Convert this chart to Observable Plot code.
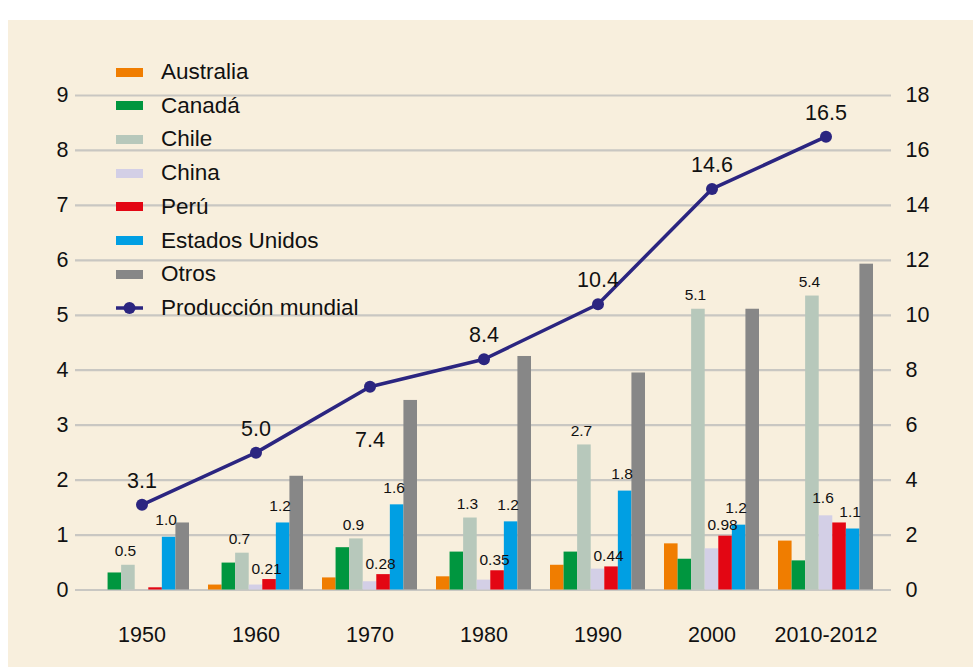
<!DOCTYPE html>
<html>
<head>
<meta charset="utf-8">
<script src="https://cdn.jsdelivr.net/npm/d3@7"></script>
<script src="https://cdn.jsdelivr.net/npm/@observablehq/plot@0.6"></script>
<style>
  html, body { margin: 0; padding: 0; background: #ffffff; }
  body { width: 973px; height: 667px; position: relative; overflow: hidden; font-family: "Liberation Sans", Arial, sans-serif; }
  #bg { position: absolute; left: 8px; top: 20px; width: 965px; height: 647px; background: #f8efdd; }
  #legend { position: absolute; left: 0; top: 0; }
  .item { position: absolute; height: 30px; display: flex; align-items: center; }
  .lbl { position: absolute; left: 45px; font-size: 22.5px; color: #111; white-space: nowrap; line-height: 30px; top: 0; }
  .sw { position: absolute; left: 0; width: 27px; height: 9px; top: 10.5px; }
</style>
</head>
<body>
<div id="bg"></div>
<script>
// ---------- data ----------
const groups = ["1950", "1960", "1970", "1980", "1990", "2000", "2010-2012"];
const seriesNames = ["Australia", "Canadá", "Chile", "China", "Perú", "Estados Unidos", "Otros"];
const seriesColors = ["#f07d00", "#00963f", "#b7c8bb", "#d3cfe6", "#e30613", "#009fe3", "#878787"];

const australia = [0.00, 0.09, 0.22, 0.24, 0.45, 0.84, 0.89];
const canada    = [0.31, 0.49, 0.77, 0.69, 0.69, 0.56, 0.53];
const chile     = [0.45, 0.67, 0.93, 1.31, 2.64, 5.11, 5.35];
const china     = [0.00, 0.09, 0.15, 0.18, 0.38, 0.75, 1.35];
const peru      = [0.04, 0.19, 0.28, 0.35, 0.42, 0.98, 1.22];
const eeuu      = [0.96, 1.22, 1.55, 1.24, 1.80, 1.18, 1.11];
const otros     = [1.22, 2.07, 3.45, 4.25, 3.95, 5.11, 5.93];

const lineName = "Producción mundial";
const lineColor = "#2b2580";
const mundial   = [3.1, 5.0, 7.4, 8.4, 10.4, 14.6, 16.5];

// bar value labels (group, series, text)
const labelGroups = ["1950","1950","1960","1960","1960","1970","1970","1970","1980","1980","1980","1990","1990","1990","2000","2000","2000","2010-2012","2010-2012","2010-2012"];
const labelSeries = ["Chile","Estados Unidos","Chile","Perú","Estados Unidos","Chile","Perú","Estados Unidos","Chile","Perú","Estados Unidos","Chile","Perú","Estados Unidos","Chile","Perú","Estados Unidos","Chile","China","Estados Unidos"];
const labelTexts  = ["0.5","1.0","0.7","0.21","1.2","0.9","0.28","1.6","1.3","0.35","1.2","2.7","0.44","1.8","5.1","0.98","1.2","5.4","1.6","1.1"];

const yTicks = [0, 1, 2, 3, 4, 5, 6, 7, 8, 9];

// ---------- build tables ----------
const seriesValues = [australia, canada, chile, china, peru, eeuu, otros];
const barData = seriesNames.map((s, i) => groups.map((g, j) => ({group: g, series: s, value: seriesValues[i][j]})));
const lineData = groups.map((g, j) => ({group: g, value: mundial[j]}));
const labelData = labelTexts.map((t, k) => {
  const si = seriesNames.indexOf(labelSeries[k]);
  const gj = groups.indexOf(labelGroups[k]);
  return {group: labelGroups[k], series: labelSeries[k], si, text: t, value: seriesValues[si][gj]};
});

// ---------- layout ----------
const W = 965, H = 647, mL = 67, mR = 82, mT = 75, mB = 77.5;
const pIn = 0.17, pOut = 0.15;
const step = (W - mL - mR) / (groups.length - pIn + 2 * pOut);
const band = step * (1 - pIn);
const n = seriesNames.length;
const bw = band / n;
const labelLift = {"Chile": -9, "China": -13, "Perú": -6, "Estados Unidos": -12};

const font = "'Liberation Sans', Arial, sans-serif";

const marks = [
  Plot.ruleY(yTicks, {stroke: "#c9c7c2", strokeWidth: 2.2}),
  ...seriesNames.map((s, i) => Plot.barY(barData[i], {
    x: "group", y: "value", fill: seriesColors[i],
    insetLeft: i * bw, insetRight: (n - 1 - i) * bw
  })),
  ...seriesNames.map((s, i) => Plot.text(labelData.filter(d => d.si === i), {
    x: "group", y: "value", text: "text",
    dx: (i - (n - 1) / 2) * bw - 3, dy: labelLift[s] ?? -8, lineAnchor: "bottom",
    fontSize: 15.5, fill: "#111"
  })),
  Plot.axisY({anchor: "left", ticks: yTicks, tickSize: 0, tickPadding: 7, fontSize: 21.5, label: null, fill: "#111"}),
  Plot.axisY({anchor: "right", ticks: yTicks, tickSize: 0, tickPadding: 14, fontSize: 21.5, label: null, fill: "#111", tickFormat: d => String(d * 2)}),
  Plot.axisX({tickSize: 0, tickPadding: 37, fontSize: 21.5, label: null, fill: "#111"}),
  Plot.line(lineData, {x: "group", y: d => d.value / 2, stroke: lineColor, strokeWidth: 3.5}),
  Plot.dot(lineData, {x: "group", y: d => d.value / 2, r: 6, fill: lineColor, stroke: null}),
  Plot.text(lineData.filter(d => d.group !== "1970"), {
    x: "group", y: d => d.value / 2, text: d => d3.format(".1f")(d.value),
    lineAnchor: "bottom", dy: -17, fontSize: 21.5, fill: "#111"
  }),
  Plot.text(lineData.filter(d => d.group === "1970"), {
    x: "group", y: d => d.value / 2, text: d => d3.format(".1f")(d.value),
    lineAnchor: "top", dy: 45, fontSize: 21.5, fill: "#111"
  })
];

const chart = Plot.plot({
  width: W, height: H,
  marginLeft: mL, marginRight: mR, marginTop: mT, marginBottom: mB,
  style: {background: "transparent", fontFamily: font, color: "#111"},
  x: {type: "band", domain: groups, paddingInner: pIn, paddingOuter: pOut},
  y: {domain: [0, 9]},
  marks
});
chart.style.position = "absolute";
chart.style.left = "0px";
chart.style.top = "0px";
document.getElementById("bg").appendChild(chart);

// ---------- legend ----------
const legend = document.createElement("div");
legend.id = "legend";
const legendX = 108, legendY0 = 37, legendStep = 33.7;
const items = seriesNames.map((s, i) => ({name: s, color: seriesColors[i], type: "bar"}))
  .concat([{name: lineName, color: lineColor, type: "line"}]);
items.forEach((it, i) => {
  const row = document.createElement("div");
  row.className = "item";
  row.style.left = legendX + "px";
  row.style.top = (legendY0 + i * legendStep) + "px";
  if (it.type === "bar") {
    const sw = document.createElement("div");
    sw.className = "sw";
    sw.style.background = it.color;
    row.appendChild(sw);
  } else {
    const svgNS = "http://www.w3.org/2000/svg";
    const svg = document.createElementNS(svgNS, "svg");
    svg.setAttribute("width", "28");
    svg.setAttribute("height", "30");
    svg.style.position = "absolute";
    svg.style.left = "0px";
    svg.style.top = "0px";
    const l = document.createElementNS(svgNS, "line");
    l.setAttribute("x1", "0"); l.setAttribute("x2", "27");
    l.setAttribute("y1", "15"); l.setAttribute("y2", "15");
    l.setAttribute("stroke", it.color); l.setAttribute("stroke-width", "3.5");
    const c = document.createElementNS(svgNS, "circle");
    c.setAttribute("cx", "13.5"); c.setAttribute("cy", "15"); c.setAttribute("r", "6");
    c.setAttribute("fill", it.color);
    svg.appendChild(l); svg.appendChild(c);
    row.appendChild(svg);
  }
  const t = document.createElement("div");
  t.className = "lbl";
  t.textContent = it.name;
  row.appendChild(t);
  legend.appendChild(row);
});
document.getElementById("bg").appendChild(legend);
</script>
</body>
</html>
